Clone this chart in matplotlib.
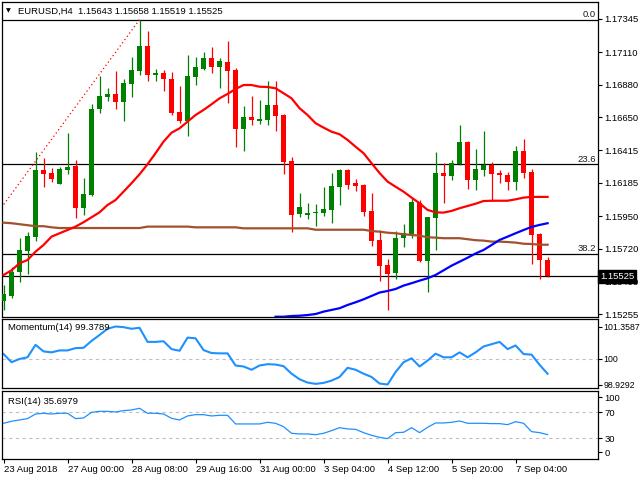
import numpy as np
import matplotlib.pyplot as plt
import matplotlib.transforms as mtrans

plt.rcParams['font.family'] = ['Liberation Sans', 'DejaVu Sans']

# EURUSD H4 candles
opens = [1.15353, 1.15386, 1.15558, 1.15706, 1.15805, 1.16277, 1.16255, 1.16180, 1.16277, 1.16305,
         1.16010, 1.16100, 1.16708, 1.16795, 1.16814, 1.16759, 1.16887, 1.16976, 1.17153, 1.16950,
         1.16962, 1.16920, 1.16687, 1.16625, 1.16936, 1.16993, 1.17066, 1.17007, 1.17040, 1.16984,
         1.16569, 1.16649, 1.16625, 1.16632, 1.16736, 1.16665, 1.16340, 1.15965, 1.15961, 1.15975,
         1.15975, 1.15994, 1.16156, 1.16277, 1.16185, 1.16170, 1.15987, 1.15782, 1.15605, 1.15550,
         1.15798, 1.15824, 1.16045, 1.15635, 1.15939, 1.16255, 1.16236, 1.16319, 1.16474, 1.16208,
         1.16279, 1.16312, 1.16255, 1.16239, 1.16194, 1.16411, 1.16265, 1.15824, 1.15643]
highs = [1.15463, 1.15589, 1.15798, 1.15838, 1.16406, 1.16359, 1.16291, 1.16296, 1.16540, 1.16345,
         1.16220, 1.16743, 1.16941, 1.16856, 1.16976, 1.16920, 1.17075, 1.17339, 1.17260, 1.16991,
         1.16981, 1.16972, 1.16870, 1.17090, 1.17073, 1.17109, 1.17144, 1.17066, 1.17189, 1.17000,
         1.16729, 1.16800, 1.16771, 1.16906, 1.16906, 1.16672, 1.16368, 1.16114, 1.16043, 1.16036,
         1.16156, 1.16255, 1.16286, 1.16280, 1.16215, 1.16180, 1.16114, 1.15852, 1.15649, 1.15845,
         1.15895, 1.16081, 1.16064, 1.15944, 1.16404, 1.16326, 1.16347, 1.16595, 1.16478, 1.16425,
         1.16552, 1.16335, 1.16279, 1.16262, 1.16446, 1.16496, 1.16284, 1.15830, 1.15658]
lows = [1.15289, 1.15374, 1.15487, 1.15543, 1.15777, 1.16158, 1.16194, 1.16175, 1.16250, 1.15939,
        1.15958, 1.16095, 1.16682, 1.16766, 1.16710, 1.16625, 1.16795, 1.16948, 1.16908, 1.16908,
        1.16837, 1.16668, 1.16611, 1.16519, 1.16880, 1.16986, 1.16964, 1.16858, 1.16752, 1.16439,
        1.16413, 1.16597, 1.16602, 1.16595, 1.16554, 1.16250, 1.15840, 1.15944, 1.15930, 1.15881,
        1.15951, 1.15902, 1.16029, 1.16142, 1.16130, 1.15951, 1.15741, 1.15494, 1.15289, 1.15506,
        1.15734, 1.15798, 1.15628, 1.15416, 1.15713, 1.16045, 1.16208, 1.16315, 1.16144, 1.16137,
        1.16236, 1.16059, 1.16187, 1.16137, 1.16137, 1.16222, 1.15614, 1.15504, 1.15519]
closes = [1.15398, 1.15558, 1.15711, 1.15810, 1.16277, 1.16250, 1.16215, 1.16284, 1.16298, 1.16006,
          1.16107, 1.16708, 1.16800, 1.16814, 1.16759, 1.16892, 1.16981, 1.17153, 1.16948, 1.16962,
          1.16922, 1.16680, 1.16625, 1.16941, 1.17003, 1.17066, 1.17007, 1.17045, 1.16979, 1.16569,
          1.16649, 1.16632, 1.16635, 1.16736, 1.16661, 1.16335, 1.15958, 1.16015, 1.15973, 1.15980,
          1.16001, 1.16163, 1.16277, 1.16173, 1.16166, 1.15982, 1.15775, 1.15600, 1.15543, 1.15796,
          1.15829, 1.16050, 1.15635, 1.15944, 1.16255, 1.16236, 1.16324, 1.16474, 1.16208, 1.16284,
          1.16312, 1.16250, 1.16243, 1.16194, 1.16411, 1.16257, 1.15819, 1.15640, 1.15525]

# moving averages (red, blue, brown) as drawn
ma_red = [1.15534, 1.15567, 1.15617, 1.15640, 1.15699, 1.15746, 1.15805, 1.15829, 1.15852, 1.15876,
          1.15907, 1.15942, 1.15977, 1.16029, 1.16064, 1.16123, 1.16183, 1.16246, 1.16317, 1.16395,
          1.16477, 1.16540, 1.16571, 1.16618, 1.16665, 1.16701, 1.16741, 1.16783, 1.16814, 1.16849,
          1.16877, 1.16877, 1.16865, 1.16863, 1.16854, 1.16819, 1.16783, 1.16713, 1.16665, 1.16607,
          1.16576, 1.16547, 1.16529, 1.16489, 1.16441, 1.16395, 1.16324, 1.16255, 1.16194, 1.16158,
          1.16123, 1.16081, 1.16041, 1.15994, 1.15977, 1.15975, 1.15987, 1.16006, 1.16022, 1.16038,
          1.16057, 1.16059, 1.16059, 1.16059, 1.16069, 1.16081, 1.16086, 1.16086, 1.16086]
ma_blue = [np.nan] * 34 + [
          1.15239, 1.15239, 1.15244, 1.15246, 1.15251, 1.15258,
          1.15275, 1.15287, 1.15299, 1.15322, 1.15341, 1.15362, 1.15386, 1.15410, 1.15421, 1.15435,
          1.15459, 1.15476, 1.15494, 1.15511, 1.15534, 1.15567, 1.15600, 1.15628, 1.15656, 1.15686,
          1.15711, 1.15746, 1.15782, 1.15805, 1.15829, 1.15852, 1.15874, 1.15888, 1.15900]
ma_brown = [1.15904, 1.15900, 1.15893, 1.15886, 1.15879, 1.15879, 1.15871, 1.15866, 1.15866, 1.15866,
            1.15866, 1.15866, 1.15866, 1.15866, 1.15866, 1.15866, 1.15866, 1.15866, 1.15876, 1.15876,
            1.15876, 1.15876, 1.15876, 1.15876, 1.15871, 1.15871, 1.15871, 1.15871, 1.15871, 1.15871,
            1.15864, 1.15864, 1.15864, 1.15864, 1.15864, 1.15864, 1.15864, 1.15864, 1.15864, 1.15854,
            1.15854, 1.15854, 1.15854, 1.15854, 1.15854, 1.15854, 1.15845, 1.15840, 1.15833, 1.15829,
            1.15822, 1.15817, 1.15812, 1.15801, 1.15798, 1.15794, 1.15794, 1.15794, 1.15787, 1.15780,
            1.15777, 1.15770, 1.15770, 1.15767, 1.15763, 1.15755, 1.15753, 1.15748, 1.15748]

momentum = [100.206, 99.863, 100.000, 100.069, 100.591, 100.316, 100.275, 100.357, 100.357, 100.453,
            100.467, 100.755, 101.003, 101.264, 101.3587, 101.332, 101.264, 101.305, 100.714, 100.714,
            100.742, 100.412, 100.343, 100.893, 100.865, 100.371, 100.247, 100.234, 100.234, 99.725,
            99.684, 99.547, 99.725, 99.780, 99.766, 99.698, 99.382, 99.148, 99.011, 98.956,
            98.997, 99.093, 99.245, 99.629, 99.547, 99.382, 99.245, 98.970, 98.9292, 99.451,
            99.863, 100.027, 99.684, 99.931, 100.220, 100.069, 100.069, 100.275, 100.069, 100.275,
            100.522, 100.618, 100.714, 100.412, 100.563, 100.206, 100.179, 99.753, 99.3789]
rsi = [53.1, 56.2, 58.2, 60.3, 67.4, 68.5, 67.4, 68.5, 68.5, 60.3,
       61.3, 70.0, 71.5, 71.5, 70.5, 72.6, 73.6, 76.2, 68.5, 68.5,
       67.4, 60.8, 58.2, 64.4, 66.4, 66.4, 64.4, 65.4, 65.4, 52.1,
       52.1, 52.1, 52.1, 54.6, 53.1, 47.9, 37.7, 36.7, 36.7, 35.6,
       37.7, 41.8, 46.4, 44.4, 43.8, 38.7, 34.6, 31.5, 29.5, 38.7,
       39.2, 46.4, 38.7, 46.9, 53.6, 53.6, 54.6, 56.7, 53.1, 53.1,
       53.1, 52.6, 52.6, 51.0, 55.6, 53.1, 40.3, 38.7, 35.6979]

date_labels = ['23 Aug 2018', '27 Aug 00:00', '28 Aug 08:00', '29 Aug 16:00', '31 Aug 00:00',
               '3 Sep 04:00', '4 Sep 12:00', '5 Sep 20:00', '7 Sep 04:00']
price_ticks = [1.17345, 1.17110, 1.16880, 1.16650, 1.16415, 1.16185, 1.15950, 1.15720, 1.15490, 1.15255]
mom_ticks = [98.9292, 100, 101.3587]

fibo_high = 1.17339
fibo_low = 1.13008
fibo_levels = [0.0, 23.6, 38.2]
fibo_x0, fibo_x1 = -39.3, 17   # anchor bars of the fibo baseline
last_price = 1.15525

GREEN = '#008000'
RED = '#ff0000'
FS = 6.8

W, H = 640.0, 480.0


def box(top, bottom, left=2, right=598):
    return [left / W, 1 - bottom / H, (right - left) / W, (bottom - top) / H]


fig = plt.figure(figsize=(6.4, 4.8), dpi=100)
fig.patch.set_facecolor('white')
ax = fig.add_axes(box(2, 317))
axm = fig.add_axes(box(319, 388))
axr = fig.add_axes(box(391, 459))

x = np.arange(len(opens))
o = np.array(opens)
c = np.array(closes)
h = np.array(highs)
l = np.array(lows)
col = np.where(c >= o, GREEN, RED)

xlim = (-0.19, 74.3)
for a in (ax, axm, axr):
    a.set_xlim(*xlim)
    for s in a.spines.values():
        s.set_linewidth(0.9)
        s.set_color('black')
    a.yaxis.tick_right()
    a.tick_params(axis='y', direction='out', length=3, width=0.8, pad=1.5, labelsize=FS)
    a.tick_params(axis='x', bottom=False, labelbottom=False)

# main price panel
ax.set_ylim(1.15237, 1.17464)
ax.vlines(x, l, h, colors=col, lw=0.9, zorder=3)
ax.bar(x, np.maximum(np.abs(c - o), 0.00006), bottom=np.minimum(o, c), width=0.62,
       color=col, lw=0, zorder=4)
ax.plot(x, ma_brown, color='#a0522d', lw=1.6, zorder=5)
ax.plot(x, ma_red, color=RED, lw=1.6, zorder=5)
ax.plot(x, ma_blue, color='#0000ff', lw=1.6, zorder=5)

yblend = mtrans.blended_transform_factory(ax.transAxes, ax.transData)
for lev in fibo_levels:
    p = fibo_high - (fibo_high - fibo_low) * lev / 100
    ax.axhline(p, color='black', lw=0.9, zorder=2)
    ax.text(0.997, p + 0.00004, '%.1f' % lev, transform=yblend,
            ha='right', va='bottom', fontsize=FS, color='#1a1a1a')
ax.plot([fibo_x0, fibo_x1], [fibo_low, fibo_high], color=RED, lw=0.9, ls=(0, (1, 2.2)), zorder=2)
ax.axhline(last_price, color='black', lw=0.9, zorder=2)

ax.set_yticks(price_ticks)
ax.set_yticklabels(['%.5f' % p for p in price_ticks])
ax.text(1.003, last_price, '%.5f' % last_price, transform=yblend,
        ha='left', va='center', fontsize=FS, color='white', zorder=10, clip_on=False,
        bbox=dict(boxstyle='square,pad=0.22', facecolor='black', edgecolor='black'))

ax.text(0.007, 0.971, '\u25bc', transform=ax.transAxes, fontsize=4.5, va='center', ha='left',
        family='DejaVu Sans')
ax.text(0.027, 0.971, 'EURUSD,H4  %.5f %.5f %.5f %.5f' % (opens[-1], highs[-1], lows[-1], closes[-1]),
        transform=ax.transAxes, fontsize=FS, va='center', ha='left')

# momentum panel
axm.set_ylim(98.783, 101.673)
axm.axhline(100, color='#c0c0c0', lw=0.8, ls=(0, (3, 3)))
axm.plot(x, momentum, color='#1e90ff', lw=1.5)
axm.set_yticks(mom_ticks)
axm.set_yticklabels(['98.9292', '100', '101.3587'])
axm.tick_params(axis='y', labelsize=6.3, pad=1)
axm.text(0.01, 0.87, 'Momentum(14) %.4f' % momentum[-1], transform=axm.transAxes,
         fontsize=FS, va='center', ha='left')

# RSI panel
axr.set_ylim(-1.85, 102.8)
for lvl in (70, 30):
    axr.axhline(lvl, color='#c0c0c0', lw=0.8, ls=(0, (3, 3)))
axr.plot(x, rsi, color='#1e90ff', lw=0.9)
axr.set_yticks([8.5, 30, 70, 93.5])
axr.set_yticklabels(['0', '30', '70', '100'])
axr.text(0.01, 0.85, 'RSI(14) %.4f' % rsi[-1], transform=axr.transAxes,
         fontsize=FS, va='center', ha='left')

axr.tick_params(axis='x', bottom=True, labelbottom=True, direction='out', length=3,
                width=0.8, pad=1.5, labelsize=FS)
axr.set_xticks(np.arange(0, 8 * len(date_labels), 8))
axr.set_xticklabels(date_labels)
for t in axr.get_xticklabels():
    t.set_ha('left')

fig.savefig('out.png', dpi=100)
